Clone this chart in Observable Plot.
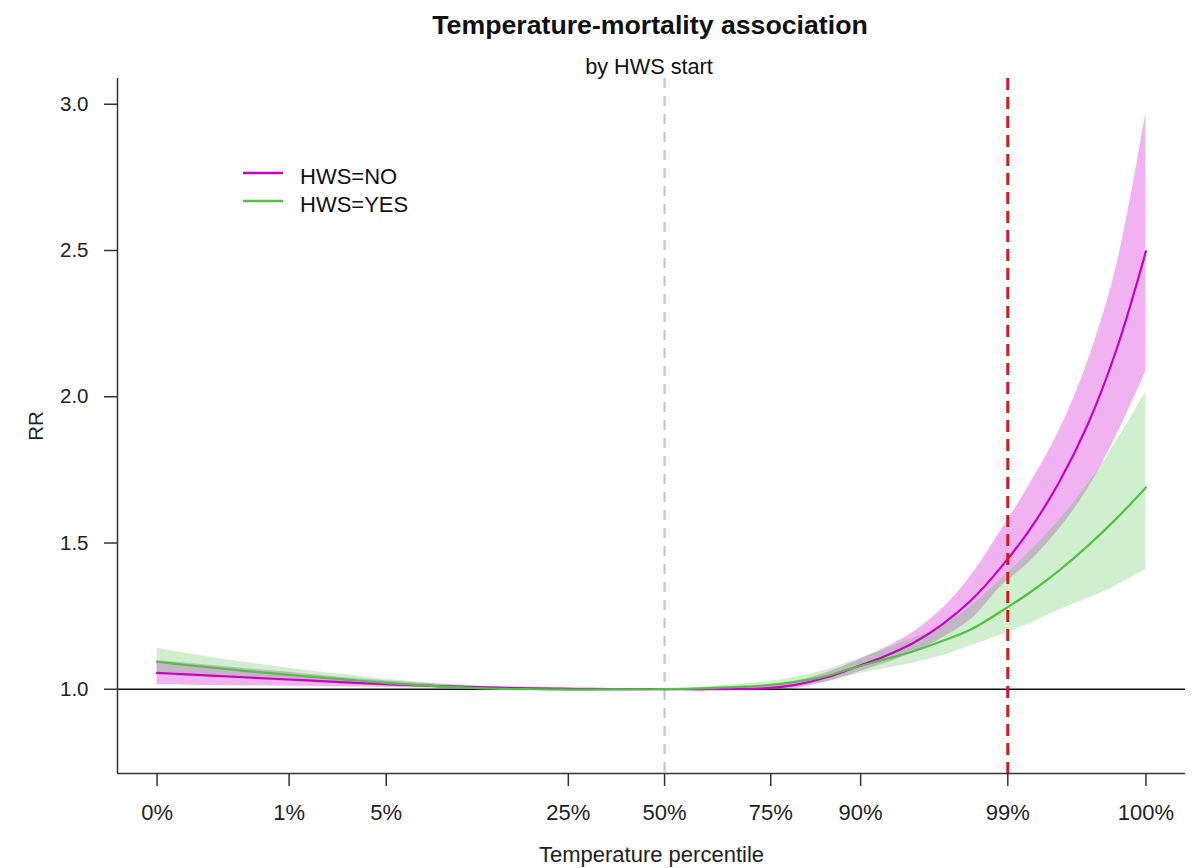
<!DOCTYPE html>
<html>
<head>
<meta charset="utf-8">
<script src="https://cdn.jsdelivr.net/npm/d3@7"></script>
<script src="https://cdn.jsdelivr.net/npm/@observablehq/plot@0.6"></script>
<style>
  html, body { margin: 0; padding: 0; background: #fff; }
  #wrap { position: relative; width: 1198px; height: 868px; font-family: "Liberation Sans", Arial, sans-serif; }
  #wrap > svg { position: absolute; left: 0; top: 0; }
</style>
</head>
<body>
<div id="wrap"></div>
<script>
// ---- data ----
// temperature grid (arbitrary temperature units, linear in the x axis)
const temps = [-3,-2,-1,0,1,2,3,4,5,6,7,8,9,10,11,12,13,14,15,16,17,18,19,20,21,22,23,24,25,26,27,28,29,30,31];
// HWS = NO (relative risk and 95% CI)
const noFit  = [1.056,1.051,1.046,1.041,1.036,1.031,1.026,1.021,1.017,1.013,1.010,1.007,1.005,1.003,1.002,1.001,1.0005,
                1.0,1.0,1.0,1.001,1.004,1.016,1.04,1.075,1.112,1.158,1.222,1.305,1.415,1.545,1.705,1.905,2.165,2.497];
const noLow  = [1.015,1.014,1.013,1.012,1.011,1.010,1.009,1.008,1.006,1.005,1.004,1.003,1.002,1.001,1.0005,1.0,1.0,
                1.0,0.999,0.997,0.995,0.995,1.003,1.025,1.055,1.087,1.125,1.175,1.24,1.35,1.435,1.545,1.685,1.87,2.086];
const noHigh = [1.098,1.089,1.080,1.071,1.062,1.053,1.044,1.035,1.028,1.021,1.016,1.011,1.008,1.005,1.0035,1.002,1.001,
                1.0,1.001,1.003,1.007,1.013,1.029,1.056,1.095,1.14,1.195,1.275,1.39,1.54,1.70,1.88,2.12,2.45,2.97];
// HWS = YES
const yesFit  = [1.094,1.083,1.073,1.063,1.054,1.045,1.037,1.029,1.021,1.014,1.008,1.004,1.001,1.0,0.999,0.999,0.9995,
                 1.0,1.001,1.004,1.008,1.014,1.026,1.045,1.075,1.102,1.13,1.165,1.205,1.265,1.33,1.405,1.49,1.585,1.69];
const yesLow  = [1.05,1.045,1.04,1.035,1.03,1.025,1.02,1.015,1.01,1.005,1.002,0.999,0.997,0.996,0.996,0.997,0.998,
                 1.0,0.999,0.999,1.0,1.003,1.01,1.025,1.05,1.07,1.09,1.115,1.15,1.185,1.225,1.27,1.31,1.355,1.41];
const yesHigh = [1.14,1.123,1.107,1.092,1.079,1.066,1.055,1.044,1.033,1.024,1.015,1.009,1.005,1.004,1.002,1.001,1.001,
                 1.0,1.003,1.009,1.017,1.026,1.042,1.066,1.10,1.135,1.175,1.215,1.285,1.375,1.47,1.575,1.70,1.85,2.017];

// x tick positions (temperatures at percentiles) and their labels
const tickTemps  = [-3.0, 1.54, 4.88, 11.14, 14.45, 18.1, 21.19, 26.25, 31.0];
const tickLabels = ["0%","1%","5%","25%","50%","75%","90%","99%","100%"];
const yTicks = [1.0, 1.5, 2.0, 2.5, 3.0];
const yLim = [0.8, 3.0];
const mmtTemp = tickTemps[4];   // 50th percentile (reference)
const p99Temp = tickTemps[7];   // 99th percentile

const seriesNames = ["HWS=NO", "HWS=YES"];
const lineColors = ["#c800c8", "#4fc23f"];
const bandColors = ["#cd00cd", "#3fbf3f"];

// ---- build table ----
const rows = temps.map((t, i) => ({
  t, noFit: noFit[i], noLow: noLow[i], noHigh: noHigh[i],
  yesFit: yesFit[i], yesLow: yesLow[i], yesHigh: yesHigh[i]
}));
const xr = temps[temps.length - 1] - temps[0];
const xDomain = [temps[0] - 0.04 * xr, temps[temps.length - 1] + 0.04 * xr];
const yr = yLim[1] - yLim[0];
const yDomain = [yLim[0] - 0.04 * yr, yLim[1] + 0.04 * yr];
const labelMap = new Map(tickTemps.map((d, i) => [d, tickLabels[i]]));

const curve = "catmull-rom";
const chart = Plot.plot({
  width: 1198,
  height: 868,
  marginLeft: 117,
  marginRight: 13,
  marginTop: 78,
  marginBottom: 95,
  style: { fontFamily: "'Liberation Sans', Arial, sans-serif", fontSize: "22px", background: "white", color: "#222" },
  x: { domain: xDomain },
  y: { domain: yDomain },
  marks: [
    Plot.areaY(rows, { x: "t", y1: "noLow", y2: "noHigh", fill: bandColors[0], fillOpacity: 0.3, curve }),
    Plot.areaY(rows, { x: "t", y1: "yesLow", y2: "yesHigh", fill: bandColors[1], fillOpacity: 0.25, curve }),
    Plot.ruleY([1], { stroke: "#111", strokeWidth: 1.5 }),
    Plot.ruleX([mmtTemp], { stroke: "#c8c8c8", strokeWidth: 2.2, strokeDasharray: "10,8" }),
    Plot.line(rows, { x: "t", y: "noFit", stroke: lineColors[0], strokeWidth: 2.2, curve }),
    Plot.line(rows, { x: "t", y: "yesFit", stroke: lineColors[1], strokeWidth: 2.2, curve }),
    Plot.ruleX([p99Temp], { stroke: "#d01a1a", strokeWidth: 3, strokeDasharray: "12,7" }),
    Plot.ruleX([xDomain[0]], { stroke: "#333", strokeWidth: 1.5 }),
    Plot.ruleY([yDomain[0]], { stroke: "#333", strokeWidth: 1.5 }),
    Plot.axisX({
      ticks: tickTemps, tickFormat: d => labelMap.get(d), tickSize: 13, tickPadding: 18,
      stroke: "#333", strokeWidth: 1.5, fill: "#222", fontSize: 22,
      label: "Temperature percentile", labelAnchor: "center", labelOffset: 88, labelArrow: "none"
    }),
    Plot.axisY({
      ticks: yTicks, tickFormat: d3.format(".1f"), tickSize: 13, tickPadding: 16,
      stroke: "#333", strokeWidth: 1.5, fill: "#222", fontSize: 20.5,
      label: "RR", labelAnchor: "center", labelOffset: 89, labelArrow: "none"
    })
  ]
});
const wrap = document.getElementById("wrap");
wrap.appendChild(chart);

// ---- title, subtitle and legend (overlay) ----
const ns = "http://www.w3.org/2000/svg";
const ov = document.createElementNS(ns, "svg");
ov.setAttribute("width", 1198); ov.setAttribute("height", 868);
ov.style.pointerEvents = "none";
function txt(s, x, y, size, weight, anchor) {
  const e = document.createElementNS(ns, "text");
  e.setAttribute("x", x); e.setAttribute("y", y);
  e.setAttribute("font-size", size); e.setAttribute("font-weight", weight || "normal");
  e.setAttribute("text-anchor", anchor || "start");
  e.setAttribute("font-family", "'Liberation Sans', Arial, sans-serif");
  e.setAttribute("fill", "#111");
  e.textContent = s; ov.appendChild(e);
}
txt("Temperature-mortality association", 650, 34, 26.7, "bold", "middle");
txt("by HWS start", 649, 74, 21.7, "normal", "middle");
seriesNames.forEach((name, i) => {
  const y = 173 + i * 28;
  const l = document.createElementNS(ns, "line");
  l.setAttribute("x1", 243); l.setAttribute("x2", 283);
  l.setAttribute("y1", y); l.setAttribute("y2", y);
  l.setAttribute("stroke", lineColors[i]); l.setAttribute("stroke-width", 2.5);
  ov.appendChild(l);
  txt(name, 300, y + 11, 22, "normal", "start");
});
wrap.appendChild(ov);
</script>
</body>
</html>
